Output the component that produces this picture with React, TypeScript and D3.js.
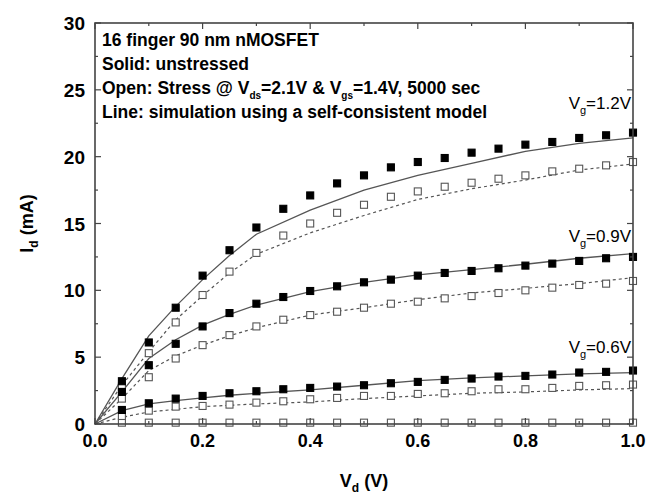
import React from "react";
import * as d3 from "d3";

const vdMeas = [0.05,0.1,0.15,0.2,0.25,0.3,0.35,0.4,0.45,0.5,0.55,0.6,0.65,0.7,0.75,0.8,0.85,0.9,0.95,1.0];
const fresh12 = [3.2,6.1,8.7,11.1,13.0,14.7,16.1,17.1,18.0,18.6,19.2,19.6,19.9,20.3,20.6,20.9,21.1,21.4,21.6,21.8];
const stress12 = [2.8,5.3,7.6,9.65,11.4,12.8,14.1,15.0,15.8,16.4,17.0,17.4,17.75,18.05,18.35,18.6,18.9,19.1,19.35,19.6];
const fresh09 = [2.4,4.4,6.0,7.3,8.3,9.0,9.5,9.95,10.3,10.6,10.8,11.1,11.3,11.45,11.65,11.85,12.0,12.2,12.4,12.5];
const stress09 = [1.9,3.5,4.9,5.9,6.65,7.3,7.8,8.15,8.4,8.7,9.0,9.15,9.4,9.57,9.8,10.0,10.2,10.4,10.5,10.7];
const fresh06 = [1.05,1.55,1.9,2.1,2.3,2.45,2.6,2.7,2.8,2.9,3.05,3.15,3.3,3.4,3.55,3.6,3.7,3.85,3.9,4.0];
const stress06 = [0.6,1.0,1.3,1.35,1.45,1.6,1.7,1.85,1.95,2.1,2.1,2.25,2.3,2.45,2.6,2.6,2.7,2.85,2.9,2.95];
const stressOff = [0.1,0.1,0.1,0.1,0.1,0.1,0.1,0.1,0.1,0.1,0.1,0.1,0.1,0.1,0.1,0.1,0.1,0.1,0.1,0.1];

const vdSim = [0,0.05,0.1,0.15,0.2,0.25,0.3,0.4,0.5,0.6,0.7,0.8,0.9,1.0];
const simFresh12 = [0,3.4,6.6,8.8,10.8,12.6,14.2,16.0,17.5,18.6,19.5,20.4,21.0,21.4];
const simStress12 = [0,2.9,5.4,7.8,9.6,11.3,12.7,14.3,15.6,16.8,17.6,18.25,19.0,19.45];
const simFresh09 = [0,2.4,4.9,6.3,7.4,8.2,8.9,9.9,10.6,11.15,11.55,11.95,12.4,12.75];
const simStress09 = [0,1.9,4.0,5.1,5.9,6.6,7.2,8.15,8.7,9.3,9.8,10.15,10.5,10.95];
const simFresh06 = [0,1.0,1.5,1.75,1.95,2.15,2.3,2.55,2.9,3.25,3.45,3.6,3.75,3.85];
const simStress06 = [0,0.5,0.9,1.1,1.3,1.4,1.5,1.65,1.9,2.1,2.3,2.4,2.55,2.65];

const xTicks = [0, 0.2, 0.4, 0.6, 0.8, 1.0];
const xMinor = [0.1, 0.3, 0.5, 0.7, 0.9];
const yTicks = [0, 5, 10, 15, 20, 25, 30];
const yMinor = [2.5, 7.5, 12.5, 17.5, 22.5, 27.5];

const W = 662, H = 496;
const L = 95, R = 633, T = 23, B = 424;
const FONT = "'Liberation Sans', Arial, sans-serif";
const AX = "#444";
const LINE = "#555";

export default function App() {
  const x = d3.scaleLinear().domain([0, 1]).range([L, R]);
  const y = d3.scaleLinear().domain([0, 30]).range([B, T]);
  const line = d3.line<number>().x((_, i) => x(vdSim[i])).y((d) => y(d));

  const markers = (vals: number[], filled: boolean, key: string) =>
    vals.map((v, i) => (
      <rect key={key + i} x={x(vdMeas[i]) - 3.5} y={y(v) - 3.5} width={7} height={7}
        fill={filled ? "#000" : "#fff"} stroke={filled ? "#000" : "#555"} strokeWidth={1.1} />
    ));

  const solids = [simFresh12, simFresh09, simFresh06];
  const dashes = [simStress12, simStress09, simStress06];

  return (
    <svg width={W} height={H} style={{ position: "absolute", left: 0, top: 0, background: "#fff" }} fontFamily={FONT}>
      <rect x={0} y={0} width={W} height={H} fill="#fff" />
      {solids.map((s, i) => (
        <path key={"s" + i} d={line(s) || ""} fill="none" stroke={LINE} strokeWidth={1.3} />
      ))}
      {dashes.map((s, i) => (
        <path key={"d" + i} d={line(s) || ""} fill="none" stroke={LINE} strokeWidth={1.2} strokeDasharray="3,3" />
      ))}
      {markers(stressOff, false, "so")}
      {markers(stress06, false, "s6")}
      {markers(stress09, false, "s9")}
      {markers(stress12, false, "s12")}
      {markers(fresh06, true, "f6")}
      {markers(fresh09, true, "f9")}
      {markers(fresh12, true, "f12")}

      {/* frame */}
      <rect x={L} y={T} width={R - L} height={B - T} fill="none" stroke={AX} strokeWidth={1.6} />
      {xTicks.map((t) => (
        <g key={"xt" + t}>
          <line x1={x(t)} x2={x(t)} y1={B} y2={B - 6} stroke={AX} strokeWidth={1.2} />
          <line x1={x(t)} x2={x(t)} y1={T} y2={T + 6} stroke={AX} strokeWidth={1.2} />
          <text x={x(t)} y={B + 23} textAnchor="middle" fontSize={18} fontWeight="bold">{t.toFixed(1)}</text>
        </g>
      ))}
      {xMinor.map((t) => (
        <g key={"xm" + t}>
          <line x1={x(t)} x2={x(t)} y1={B} y2={B - 3} stroke={AX} strokeWidth={1.2} />
          <line x1={x(t)} x2={x(t)} y1={T} y2={T + 3} stroke={AX} strokeWidth={1.2} />
        </g>
      ))}
      {yTicks.map((t) => (
        <g key={"yt" + t}>
          <line x1={L} x2={L + 6} y1={y(t)} y2={y(t)} stroke={AX} strokeWidth={1.2} />
          <line x1={R} x2={R - 6} y1={y(t)} y2={y(t)} stroke={AX} strokeWidth={1.2} />
          <text x={L - 10} y={y(t) + 7} textAnchor="end" fontSize={19} fontWeight="bold">{t}</text>
        </g>
      ))}
      {yMinor.map((t) => (
        <g key={"ym" + t}>
          <line x1={L} x2={L + 3} y1={y(t)} y2={y(t)} stroke={AX} strokeWidth={1.2} />
          <line x1={R} x2={R - 3} y1={y(t)} y2={y(t)} stroke={AX} strokeWidth={1.2} />
        </g>
      ))}

      {/* axis titles */}
      <text x={(L + R) / 2} y={487} textAnchor="middle" fontSize={18} fontWeight="bold">
        V<tspan fontSize={12} dy={5}>d</tspan><tspan dy={-5}> (V)</tspan>
      </text>
      <text transform={`translate(33,${(T + B) / 2}) rotate(-90)`} textAnchor="middle" fontSize={18} fontWeight="bold">
        I<tspan fontSize={12} dy={5}>d</tspan><tspan dy={-5}> (mA)</tspan>
      </text>

      {/* annotations */}
      <g fontSize={17.5} fontWeight="bold">
        <text x={102} y={46}>16 finger 90 nm nMOSFET</text>
        <text x={102} y={70}>Solid: unstressed</text>
        <text x={102} y={94}>Open: Stress @ V<tspan fontSize={10} dy={5}>ds</tspan><tspan dy={-5}>=2.1V &amp; V</tspan><tspan fontSize={10} dy={5}>gs</tspan><tspan dy={-5}>=1.4V, 5000 sec</tspan></text>
        <text x={102} y={118}>Line: simulation using a self-consistent model</text>
      </g>
      <g fontSize={17} textAnchor="end">
        <text x={631} y={109}>V<tspan fontSize={11} dy={5}>g</tspan><tspan dy={-5}>=1.2V</tspan></text>
        <text x={631} y={242}>V<tspan fontSize={11} dy={5}>g</tspan><tspan dy={-5}>=0.9V</tspan></text>
        <text x={631} y={353}>V<tspan fontSize={11} dy={5}>g</tspan><tspan dy={-5}>=0.6V</tspan></text>
      </g>
    </svg>
  );
}
